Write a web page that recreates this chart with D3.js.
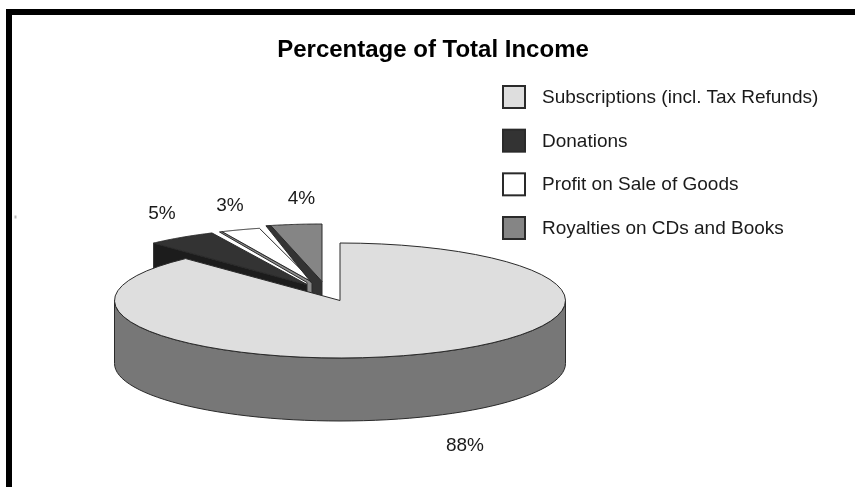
<!DOCTYPE html>
<html><head><meta charset="utf-8">
<script src="https://cdn.jsdelivr.net/npm/d3@7/dist/d3.min.js"></script>
<style>html,body{margin:0;padding:0;background:#fff}svg{display:block;filter:blur(.35px)}text{font-family:"Liberation Sans",Arial,sans-serif;fill:#1a1a1a}</style>
</head><body><svg id="c" width="855" height="487"></svg>
<script>
const categories=["Subscriptions (incl. Tax Refunds)","Donations","Profit on Sale of Goods","Royalties on CDs and Books"];
const values=[88,5,3,4];
const labels=["88%","5%","3%","4%"];
const topColors=["#dedede","#333333","#ffffff","#858585"];
const cutColors=["#777777","#1c1c1c","#8a8a8a","#333333"];

const svg=d3.select("#c");
const W=855,H=487;
svg.append("rect").attr("width",W).attr("height",H).attr("fill","#fff");
const frame=d3.path();
frame.moveTo(9,H);frame.lineTo(9,12);frame.lineTo(W,12);
svg.append("path").attr("d",frame).attr("fill","none").attr("stroke","#000").attr("stroke-width",6);
svg.append("rect").attr("x",14.5).attr("y",215.5).attr("width",2).attr("height",3).attr("fill","#bbb");

svg.append("text").attr("x",433).attr("y",57).attr("text-anchor","middle")
  .attr("font-size",24).attr("font-weight","bold").style("fill","#000").text("Percentage of Total Income");

const arcs=d3.pie().value(d=>d).sort(null)(values);
const x=d3.scaleLinear().domain([-1,1]).range([114.5,565.5]);
const y=d3.scaleLinear().domain([-1,1]).range([358,243]);
const depth=63;
// explode offset, cut-face depth / foot width / knee height, and rim trim of each wedge
const offs=[[0,0],[-32,-15.5],[-24.5,-16.5],[-18,-19]];
const faces=[null,null,[9,8.5,-1.5],[14,10,2]];
const trims=[0,0,0.013,0.022];
const labelPos=[[465,451],[162,219],[230,211],[301.5,204]];
const line=d3.line();
const rim=(a0,a1,dx,dy,dz)=>d3.range(0,61).map(i=>{
  const a=a0+(a1-a0)*i/60;
  return [x(Math.sin(a))+dx,y(Math.cos(a))+dy+dz];
});
const stroke="#2a2a2a";
const draw=(pts,fill)=>svg.append("path").attr("d",line(pts)+"Z").attr("fill",fill)
  .attr("stroke",stroke).attr("stroke-width",1).attr("stroke-linejoin","round");

[1,2,3].forEach(i=>{
  const s=arcs[i],[dx,dy]=offs[i];
  const apex=[x(0)+dx,y(0)+dy];
  const first=rim(s.startAngle,s.endAngle,dx,dy,0)[0];
  const topRim=rim(s.startAngle+trims[i],s.endAngle,dx,dy,0);
  let face;
  if(faces[i]){
    const [d,w,k]=faces[i];
    face=[first,topRim[0],apex,[apex[0],apex[1]+d],[apex[0]-w,apex[1]+d],[apex[0]-w,apex[1]+k]];
  }else{
    face=[first,apex,[apex[0],apex[1]+depth],[first[0],first[1]+depth]];
  }
  draw(face,cutColors[i]);
  draw([apex,...topRim],topColors[i]);
});
const m=arcs[0];
const c=[x(0),y(0)];
draw([...rim(Math.PI/2,3*Math.PI/2,0,0,0),...rim(Math.PI/2,3*Math.PI/2,0,0,depth).reverse()],cutColors[0]);
draw([c,...rim(m.startAngle,m.endAngle,0,0,0)],topColors[0]);

labels.forEach((t,i)=>svg.append("text").attr("x",labelPos[i][0]).attr("y",labelPos[i][1])
  .attr("text-anchor","middle").attr("font-size",19).text(t));

const ly=d3.scalePoint().domain(categories).range([97,228]);
categories.forEach((t,i)=>{
  const yy=ly(t);
  svg.append("rect").attr("x",503).attr("y",yy-11).attr("width",22).attr("height",22)
    .attr("fill",topColors[i]).attr("stroke",stroke).attr("stroke-width",2);
  svg.append("text").attr("x",542).attr("y",yy+6).attr("font-size",19).text(t);
});
</script></body></html>
